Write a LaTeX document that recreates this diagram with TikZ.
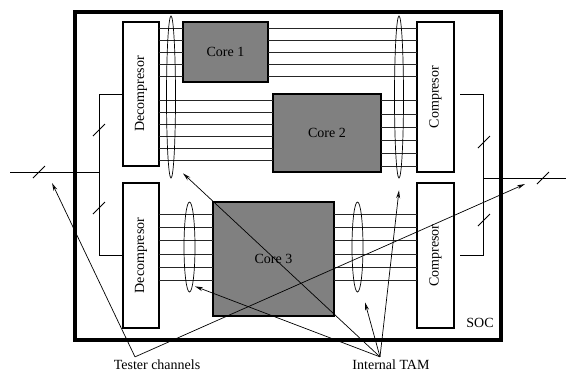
\documentclass[tikz,border=0pt]{standalone}
\usepackage{fontspec}
\setmainfont{Liberation Serif}
\usepackage{graphicx}
\usetikzlibrary{positioning, shapes.geometric, arrows.meta}

\begin{document}
\begin{tikzpicture}[
		x=1pt, y=-1pt,
		>={Stealth[open, length=8pt, width=4pt]},
		font=\fontsize{14}{16}\selectfont,
		unit/.style={
			rectangle, draw=black, line width=1.6pt, fill=white,
			inner sep=0pt, outer sep=0pt, minimum width=36pt
		},
		core/.style={rectangle, draw=black, line width=1.6pt, fill=black!50, inner sep=0pt, outer sep=0pt},
		bus/.style={draw=black!85, line width=0.7pt},
		tam/.style={ellipse, draw=black, line width=0.7pt, inner sep=0pt, minimum width=9pt},
		wire/.style={draw=black, line width=0.8pt},
		tick/.style={draw=black, line width=0.8pt},
		arrow/.style={->, line width=0.7pt},
		lbl/.style={inner sep=3pt}
		]
		\useasboundingbox (0,0) rectangle (566,381);
		
		% Chip
		\node[draw, line width=4pt, inner sep=0pt, minimum width=426pt, minimum height=328pt] (soc) at (288,176) {};
		\node[anchor=base] (soclbl) at (480,327) {SOC};
		
		% Decompressors / compressors
		\node[unit, minimum height=144pt] (decA) at (141,94) {\rotatebox{90}{Decompresor}};
		\node[unit, minimum height=145pt, below=17pt of decA] (decB) {\rotatebox{90}{Decompresor}};
		\node[unit, minimum width=37pt, minimum height=150pt] (compA) at (435.5,97) {\rotatebox{90}{Compresor}};
		\node[unit, minimum width=37pt, minimum height=145pt, below=11pt of compA] (compB) {\rotatebox{90}{Compresor}};
		
		% Cores
		\node[core, minimum width=85pt, minimum height=60pt] (core1) at (225.5,52) {Core 1};
		\node[core, minimum width=108pt, minimum height=78pt] (core2) at (327,133) {Core 2};
		\node[core, minimum width=121pt, minimum height=114pt] (core3) at (273.5,259) {Core 3};
		
		% Internal TAM wires
		\foreach \y in {28,40,52,64,76} {
			\draw[bus] (decA.east |- 0,\y) -- (core1.west |- 0,\y);
			\draw[bus] (core1.east |- 0,\y) -- (compA.west |- 0,\y);
		}
		\foreach \a/\b in {100/100, 112.3/114, 124.3/127, 136.3/140.3, 148.3/153.7, 160/166.7} {
			\draw[bus] (decA.east |- 0,\a) -- (core2.west |- 0,\a);
			\draw[bus] (core2.east |- 0,\b) -- (compA.west |- 0,\b);
		}
		\foreach \y in {214,227,240,254,267,280} {
			\draw[bus] (decB.east |- 0,\y) -- (core3.west |- 0,\y);
			\draw[bus] (core3.east |- 0,\y) -- (compB.west |- 0,\y);
		}
		
		% TAM groups
		\node[tam, minimum height=162pt] (tamA) at (171,97) {};
		\node[tam, minimum height=162pt] (tamB) at (399,97) {};
		\node[tam, minimum width=11pt, minimum height=90pt] (tamC) at (189.5,247) {};
		\node[tam, minimum width=11pt, minimum height=90pt] (tamD) at (357.5,247) {};
		
		% Tester channels
		\coordinate (inL) at (10,172);
		\coordinate (jL) at (99,172);
		\coordinate (jR) at (483,178);
		\coordinate (outR) at (566,178);
		\coordinate (cA) at ([xshift=6pt, yshift=3pt]compA.east);
		\coordinate (cB) at ([xshift=6pt]compB.east);
		\draw[wire] (decA.west) -- (jL |- decA.west) |- (decB.west);
		\draw[wire] (inL) -- (jL);
		\draw[wire] (cA) -| (jR |- cB) -- (cB);
		\draw[wire] (jR) -- (outR);
		\foreach \x/\y in {39/172, 99/130, 99/208, 484/142, 484/220, 543/178}
			\draw[tick] (\x,\y) ++(-6,6) -- ++(12,-12);
		
		% Labels
		\node[lbl] (tester) at (157,365) {Tester channels};
		\node[lbl] (tam) at (391,365) {Internal TAM};
		
		\draw[arrow] ([xshift=-22pt]tester.north) -- ([xshift=42pt, yshift=-11pt]inL);
		\draw[arrow] ([xshift=-22pt]tester.north) -- ([xshift=42pt, yshift=-6pt]jR);
		\draw[arrow] ([xshift=-11pt]tam.north) -- ([xshift=12pt, yshift=5pt]tamA.south);
		\draw[arrow] ([xshift=-11pt]tam.north) -- ([yshift=-12pt]tamB.south);
		\draw[arrow] ([xshift=-11pt]tam.north) -- ([xshift=5.5pt, yshift=6pt]tamC.south);
		\draw[arrow] ([xshift=-11pt]tam.north) -- ([xshift=7.5pt, yshift=-10pt]tamD.south);
		
	\end{tikzpicture}
\end{document}
